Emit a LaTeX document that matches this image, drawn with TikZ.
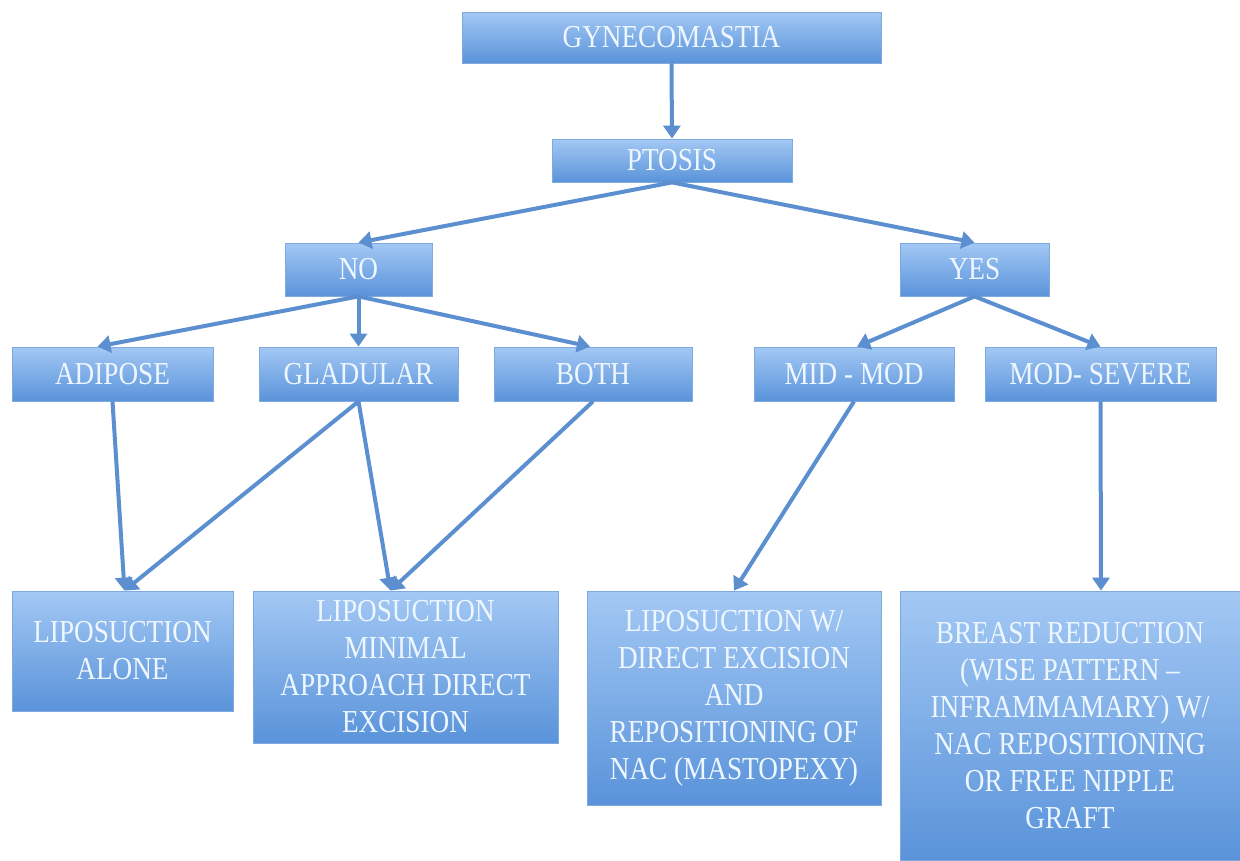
\documentclass[tikz,border=0pt]{standalone}
\usepackage{fontspec}
\setmainfont[FakeStretch=0.85]{Liberation Serif}
\usetikzlibrary{arrows.meta}
\definecolor{boxtop}{HTML}{A3C8F4}
\definecolor{boxbot}{HTML}{5A93DA}
\definecolor{boxedge}{HTML}{7FAAE0}
\definecolor{txt}{HTML}{EEF7FF}
\definecolor{arr}{HTML}{5B8FD0}
\tikzset{
  box/.style={rectangle, top color=boxtop, bottom color=boxbot, draw=boxedge, line width=0.8pt,
    inner sep=0pt, text=txt, align=center, font=\fontsize{32}{37}\selectfont},
  conn/.style={draw=arr, line width=4pt, -{Triangle[length=13pt,width=17pt]}}
}
\begin{document}
\begin{tikzpicture}[x=1pt,y=-1pt]
\useasboundingbox (0,0) rectangle (1240,860);
\node[box, minimum width=419pt, minimum height=51pt] (gyn) at (671.5,37.5) {GYNECOMASTIA};
\node[box, minimum width=240pt, minimum height=43pt] (pt) at (672,160.5) {PTOSIS};
\node[box, minimum width=147pt, minimum height=53pt] (no) at (358.5,269.5) {NO};
\node[box, minimum width=149pt, minimum height=53pt] (yes) at (974.5,269.5) {YES};
\node[box, minimum width=201pt, minimum height=54pt] (adi) at (112.5,374) {ADIPOSE};
\node[box, minimum width=199pt, minimum height=54pt] (gla) at (358.5,374) {GLADULAR};
\node[box, minimum width=198pt, minimum height=54pt] (both) at (593,374) {BOTH};
\node[box, minimum width=200pt, minimum height=54pt] (mid) at (854,374) {MID - MOD};
\node[box, minimum width=231pt, minimum height=54pt] (sev) at (1100.5,374) {MOD- SEVERE};
\node[box, minimum width=221pt, minimum height=120pt] (la) at (122.5,651) {LIPOSUCTION\\ALONE};
\node[box, minimum width=305pt, minimum height=152pt] (lm) at (405.5,667) {LIPOSUCTION\\MINIMAL\\APPROACH DIRECT\\EXCISION};
\node[box, minimum width=294pt, minimum height=214pt] (lw) at (734,698) {LIPOSUCTION W/\\DIRECT EXCISION\\AND\\REPOSITIONING OF\\NAC (MASTOPEXY)};
\node[box, minimum width=340pt, minimum height=269pt] (br) at (1070,725.5) {BREAST REDUCTION\\(WISE PATTERN –\\INFRAMMAMARY) W/\\NAC REPOSITIONING\\OR FREE NIPPLE\\GRAFT};
\draw[conn] (gyn.south) -- (pt.north);
\draw[conn] (pt.south) -- (no.north);
\draw[conn] (pt.south) -- (yes.north);
\draw[conn] (no.south) -- ([xshift=-15pt]adi.north);
\draw[conn] (no.south) -- (gla.north);
\draw[conn] (no.south) -- ([xshift=-3pt]both.north);
\draw[conn] (yes.south) -- ([xshift=3pt]mid.north);
\draw[conn] (yes.south) -- (sev.north);
\draw[conn] (adi.south) -- ([xshift=2pt]la.north);
\draw[conn] (gla.south) -- ([xshift=2pt]la.north);
\draw[conn] (gla.south) -- ([xshift=-15pt]lm.north);
\draw[conn] (both.south) -- ([xshift=-15pt]lm.north);
\draw[conn] (mid.south) -- (lw.north);
\draw[conn] (sev.south) -- ([xshift=31pt]br.north);
\end{tikzpicture}
\end{document}
